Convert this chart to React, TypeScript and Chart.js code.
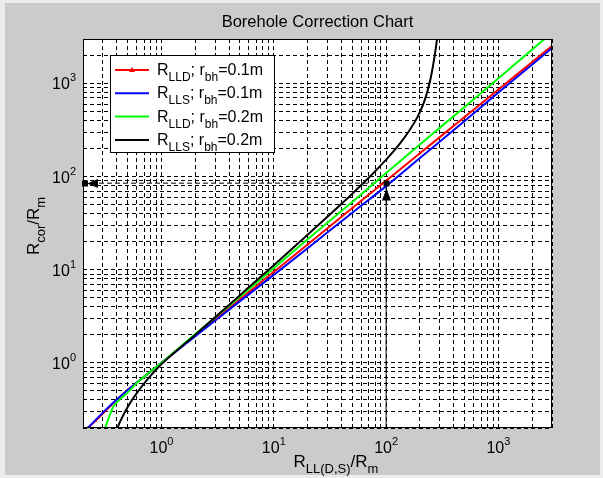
import React, { useEffect, useRef } from "react";
import { Chart, registerables } from "chart.js";

Chart.register(...registerables);

const chartTitle = "Borehole Correction Chart";

// R_LLD, r_bh = 0.1 m
const redX = [0.22, 0.26, 0.35, 0.5, 0.7, 1, 2, 5, 10, 20, 50, 100, 200, 500, 1000, 2000, 3000];
const redY = [0.2, 0.24, 0.345, 0.51, 0.71, 1, 1.97, 4.83, 9.5, 18.7, 45.9, 90.4, 178, 436, 861, 1697, 2525];
// R_LLS, r_bh = 0.1 m
const blueX = [0.22, 0.35, 0.5, 0.7, 1, 2, 5, 10, 20, 50, 100, 200, 500, 1000, 2000, 3000];
const blueY = [0.2, 0.35, 0.51, 0.71, 1, 1.93, 4.6, 8.8, 17, 41, 79, 158, 395, 800, 1600, 2400];
// R_LLD, r_bh = 0.2 m
const greenX = [0.315, 0.34, 0.373, 0.45, 0.525, 0.6, 0.75, 1, 2, 5, 10, 20, 50, 100, 200, 500, 1000, 2000, 3000];
const greenY = [0.2, 0.26, 0.34, 0.43, 0.51, 0.605, 0.76, 1, 2.04, 5.12, 10.4, 21.2, 53.5, 109, 221, 560, 1135, 2310, 3520];
// R_LLS, r_bh = 0.2 m
const blackX = [0.39, 0.43, 0.5, 0.6, 0.75, 0.9, 1, 2, 3, 5, 10, 20, 30, 50, 70, 100, 130, 160, 190, 215, 235, 250, 265, 280, 295];
const blackY = [0.18, 0.237, 0.336, 0.47, 0.665, 0.85, 0.97, 2.01, 3.09, 5.33, 11.2, 23.7, 37, 65.5, 97, 152, 219, 309, 435, 607, 852, 1160, 1695, 2630, 4440];

const seriesLogs = ["LLD", "LLS", "LLD", "LLS"];
const seriesRbh = ["0.1", "0.1", "0.2", "0.2"];
const seriesColors = ["#ff0000", "#0000ff", "#00ff00", "#000000"];

const axisMin = 0.2;
const axisMax = 3000;
const gridValues = [
  0.2, 0.3, 0.4, 0.5, 0.6, 0.7, 0.8, 0.9,
  1, 2, 3, 4, 5, 6, 7, 8, 9,
  10, 20, 30, 40, 50, 60, 70, 80, 90,
  100, 200, 300, 400, 500, 600, 700, 800, 900,
  1000, 2000, 3000,
];
const majorExps = [0, 1, 2, 3];

// example reading on the chart
const exampleX = 100;
const exampleY = 85;

const FONT = "'Liberation Sans', Arial, Helvetica, sans-serif";

type Part = { t: string; size: number; dy: number };

function partsWidth(ctx: CanvasRenderingContext2D, parts: Part[]) {
  let w = 0;
  for (const p of parts) {
    ctx.font = `${p.size}px ${FONT}`;
    w += ctx.measureText(p.t).width;
  }
  return w;
}

function drawParts(ctx: CanvasRenderingContext2D, parts: Part[], x: number, y: number) {
  let cx = x;
  ctx.textAlign = "left";
  ctx.textBaseline = "alphabetic";
  for (const p of parts) {
    ctx.font = `${p.size}px ${FONT}`;
    ctx.fillText(p.t, cx, y + p.dy);
    cx += ctx.measureText(p.t).width;
  }
}

const pow10Parts = (e: number): Part[] => [
  { t: "10", size: 16, dy: 0 },
  { t: String(e), size: 11, dy: -8 },
];

const decorPlugin = {
  id: "decor",
  beforeDraw(chart: any) {
    const { ctx, chartArea: a } = chart;
    ctx.save();
    ctx.fillStyle = "#ffffff";
    ctx.fillRect(a.left, a.top, a.right - a.left, a.bottom - a.top);
    ctx.restore();
  },
  afterDraw(chart: any) {
    const { ctx, chartArea: a } = chart;
    const xs = chart.scales.x;
    const ys = chart.scales.y;
    ctx.save();
    ctx.fillStyle = "#000";
    ctx.strokeStyle = "#000";

    // axes box
    ctx.lineWidth = 1;
    ctx.setLineDash([]);
    ctx.strokeRect(a.left + 0.5, a.top + 0.5, a.right - a.left - 1, a.bottom - a.top - 1);

    // example arrows
    const px = Math.round(xs.getPixelForValue(exampleX)) + 0.5;
    const py = Math.round(ys.getPixelForValue(exampleY)) + 0.5;
    ctx.fillRect(px - 3, py - 3, 6, 6);
    ctx.beginPath();
    ctx.moveTo(px, py + 5);
    ctx.lineTo(px - 4.5, py + 17);
    ctx.lineTo(px + 4.5, py + 17);
    ctx.closePath();
    ctx.fill();
    const lx = a.left;
    ctx.fillRect(lx - 1, py - 3, 6, 6);
    ctx.beginPath();
    ctx.moveTo(lx + 4, py);
    ctx.lineTo(lx + 15, py - 4.5);
    ctx.lineTo(lx + 15, py + 4.5);
    ctx.closePath();
    ctx.fill();

    // tick labels
    for (const e of majorExps) {
      const v = Math.pow(10, e);
      const parts = pow10Parts(e);
      const w = partsWidth(ctx, parts);
      const x = xs.getPixelForValue(v);
      drawParts(ctx, parts, x - w / 2, 453);
      const y = ys.getPixelForValue(v);
      drawParts(ctx, parts, 76 - w, y + 6);
    }

    // title
    ctx.font = `16.5px ${FONT}`;
    ctx.textAlign = "center";
    ctx.fillText(chartTitle, (a.left + a.right) / 2, 27);

    // x label
    const xl: Part[] = [
      { t: "R", size: 17, dy: 0 },
      { t: "LL(D,S)", size: 13, dy: 6 },
      { t: "/R", size: 17, dy: 0 },
      { t: "m", size: 13, dy: 6 },
    ];
    const xw = partsWidth(ctx, xl);
    drawParts(ctx, xl, 336 - xw / 2, 467);

    // y label
    const yl: Part[] = [
      { t: "R", size: 17, dy: 0 },
      { t: "cor", size: 13, dy: 6 },
      { t: "/R", size: 17, dy: 0 },
      { t: "m", size: 13, dy: 6 },
    ];
    const yw = partsWidth(ctx, yl);
    ctx.save();
    ctx.translate(39, 226 + yw / 2);
    ctx.rotate(-Math.PI / 2);
    drawParts(ctx, yl, 0, 0);
    ctx.restore();

    // legend
    const bx = 110, by = 55, bw = 164, bh = 97;
    ctx.fillStyle = "#fff";
    ctx.fillRect(bx, by, bw, bh);
    ctx.strokeStyle = "#000";
    ctx.lineWidth = 1;
    ctx.strokeRect(bx + 0.5, by + 0.5, bw, bh);
    for (let i = 0; i < seriesColors.length; i++) {
      const ly = 70 + i * 23.3;
      ctx.strokeStyle = seriesColors[i];
      ctx.lineWidth = 2;
      ctx.beginPath();
      ctx.moveTo(115, ly);
      ctx.lineTo(149, ly);
      ctx.stroke();
      if (i === 0) {
        ctx.fillStyle = seriesColors[i];
        ctx.beginPath();
        ctx.moveTo(132, ly - 3);
        ctx.lineTo(129, ly + 2);
        ctx.lineTo(135, ly + 2);
        ctx.closePath();
        ctx.fill();
      }
      ctx.fillStyle = "#000";
      drawParts(
        ctx,
        [
          { t: "R", size: 16, dy: 0 },
          { t: seriesLogs[i], size: 12, dy: 6 },
          { t: "; r", size: 16, dy: 0 },
          { t: "bh", size: 12, dy: 6 },
          { t: `=${seriesRbh[i]}m`, size: 16, dy: 0 },
        ],
        157,
        ly + 5
      );
    }
    ctx.restore();
  },
};

function logAxis(position: string) {
  return {
    type: "logarithmic" as const,
    position,
    min: axisMin,
    max: axisMax,
    afterBuildTicks: (scale: any) => {
      scale.ticks = gridValues.map((v) => ({ value: v }));
    },
    ticks: { display: false },
    grid: { color: "#000", lineWidth: 1, drawTicks: false },
    border: { display: false, dash: [4, 3] },
  };
}

export default function App() {
  const ref = useRef<HTMLCanvasElement>(null);
  useEffect(() => {
    const canvas = ref.current!;
    const mk = (xs: number[], ys: number[], i: number, order: number, extra: any = {}) => ({
      data: xs.map((x, k) => ({ x, y: ys[k] })),
      borderColor: seriesColors[i],
      backgroundColor: seriesColors[i],
      borderWidth: 2,
      pointRadius: 0,
      cubicInterpolationMode: "monotone",
      order,
      ...extra,
    });
    const chart = new Chart(canvas, {
      type: "line",
      data: {
        datasets: [
          {
            data: [
              { x: exampleX, y: axisMin },
              { x: exampleX, y: exampleY },
            ],
            borderColor: "#000",
            borderWidth: 1,
            pointRadius: 0,
            order: 20,
          },
          {
            data: [
              { x: axisMin, y: exampleY },
              { x: exampleX, y: exampleY },
            ],
            borderColor: "#000",
            borderWidth: 1,
            borderDash: [5, 3],
            pointRadius: 0,
            order: 21,
          },
          mk(redX, redY, 0, 4, { pointRadius: 1.8, pointStyle: "triangle", pointBorderWidth: 0 }),
          mk(blueX, blueY, 1, 3),
          mk(greenX, greenY, 2, 2),
          mk(blackX, blackY, 3, 1),
        ] as any,
      },
      options: {
        responsive: false,
        devicePixelRatio: 1,
        animation: false,
        events: [],
        layout: { padding: { left: 83, right: 51, top: 39, bottom: 50 } },
        plugins: {
          legend: { display: false },
          tooltip: { enabled: false },
          title: { display: false },
        },
        scales: {
          x: logAxis("bottom"),
          y: logAxis("left"),
        } as any,
      },
      plugins: [decorPlugin],
    });
    return () => chart.destroy();
  }, []);
  return (
    <div style={{ position: "fixed", left: 0, top: 0, width: 603, height: 478, background: "#ececec" }}>
      <div style={{ position: "absolute", left: 5, top: 3, right: 3, bottom: 3, background: "#cbcbcb" }} />
      <canvas
        ref={ref}
        width={603}
        height={478}
        style={{ position: "absolute", left: 0, top: 0, width: 603, height: 478 }}
      />
    </div>
  );
}
